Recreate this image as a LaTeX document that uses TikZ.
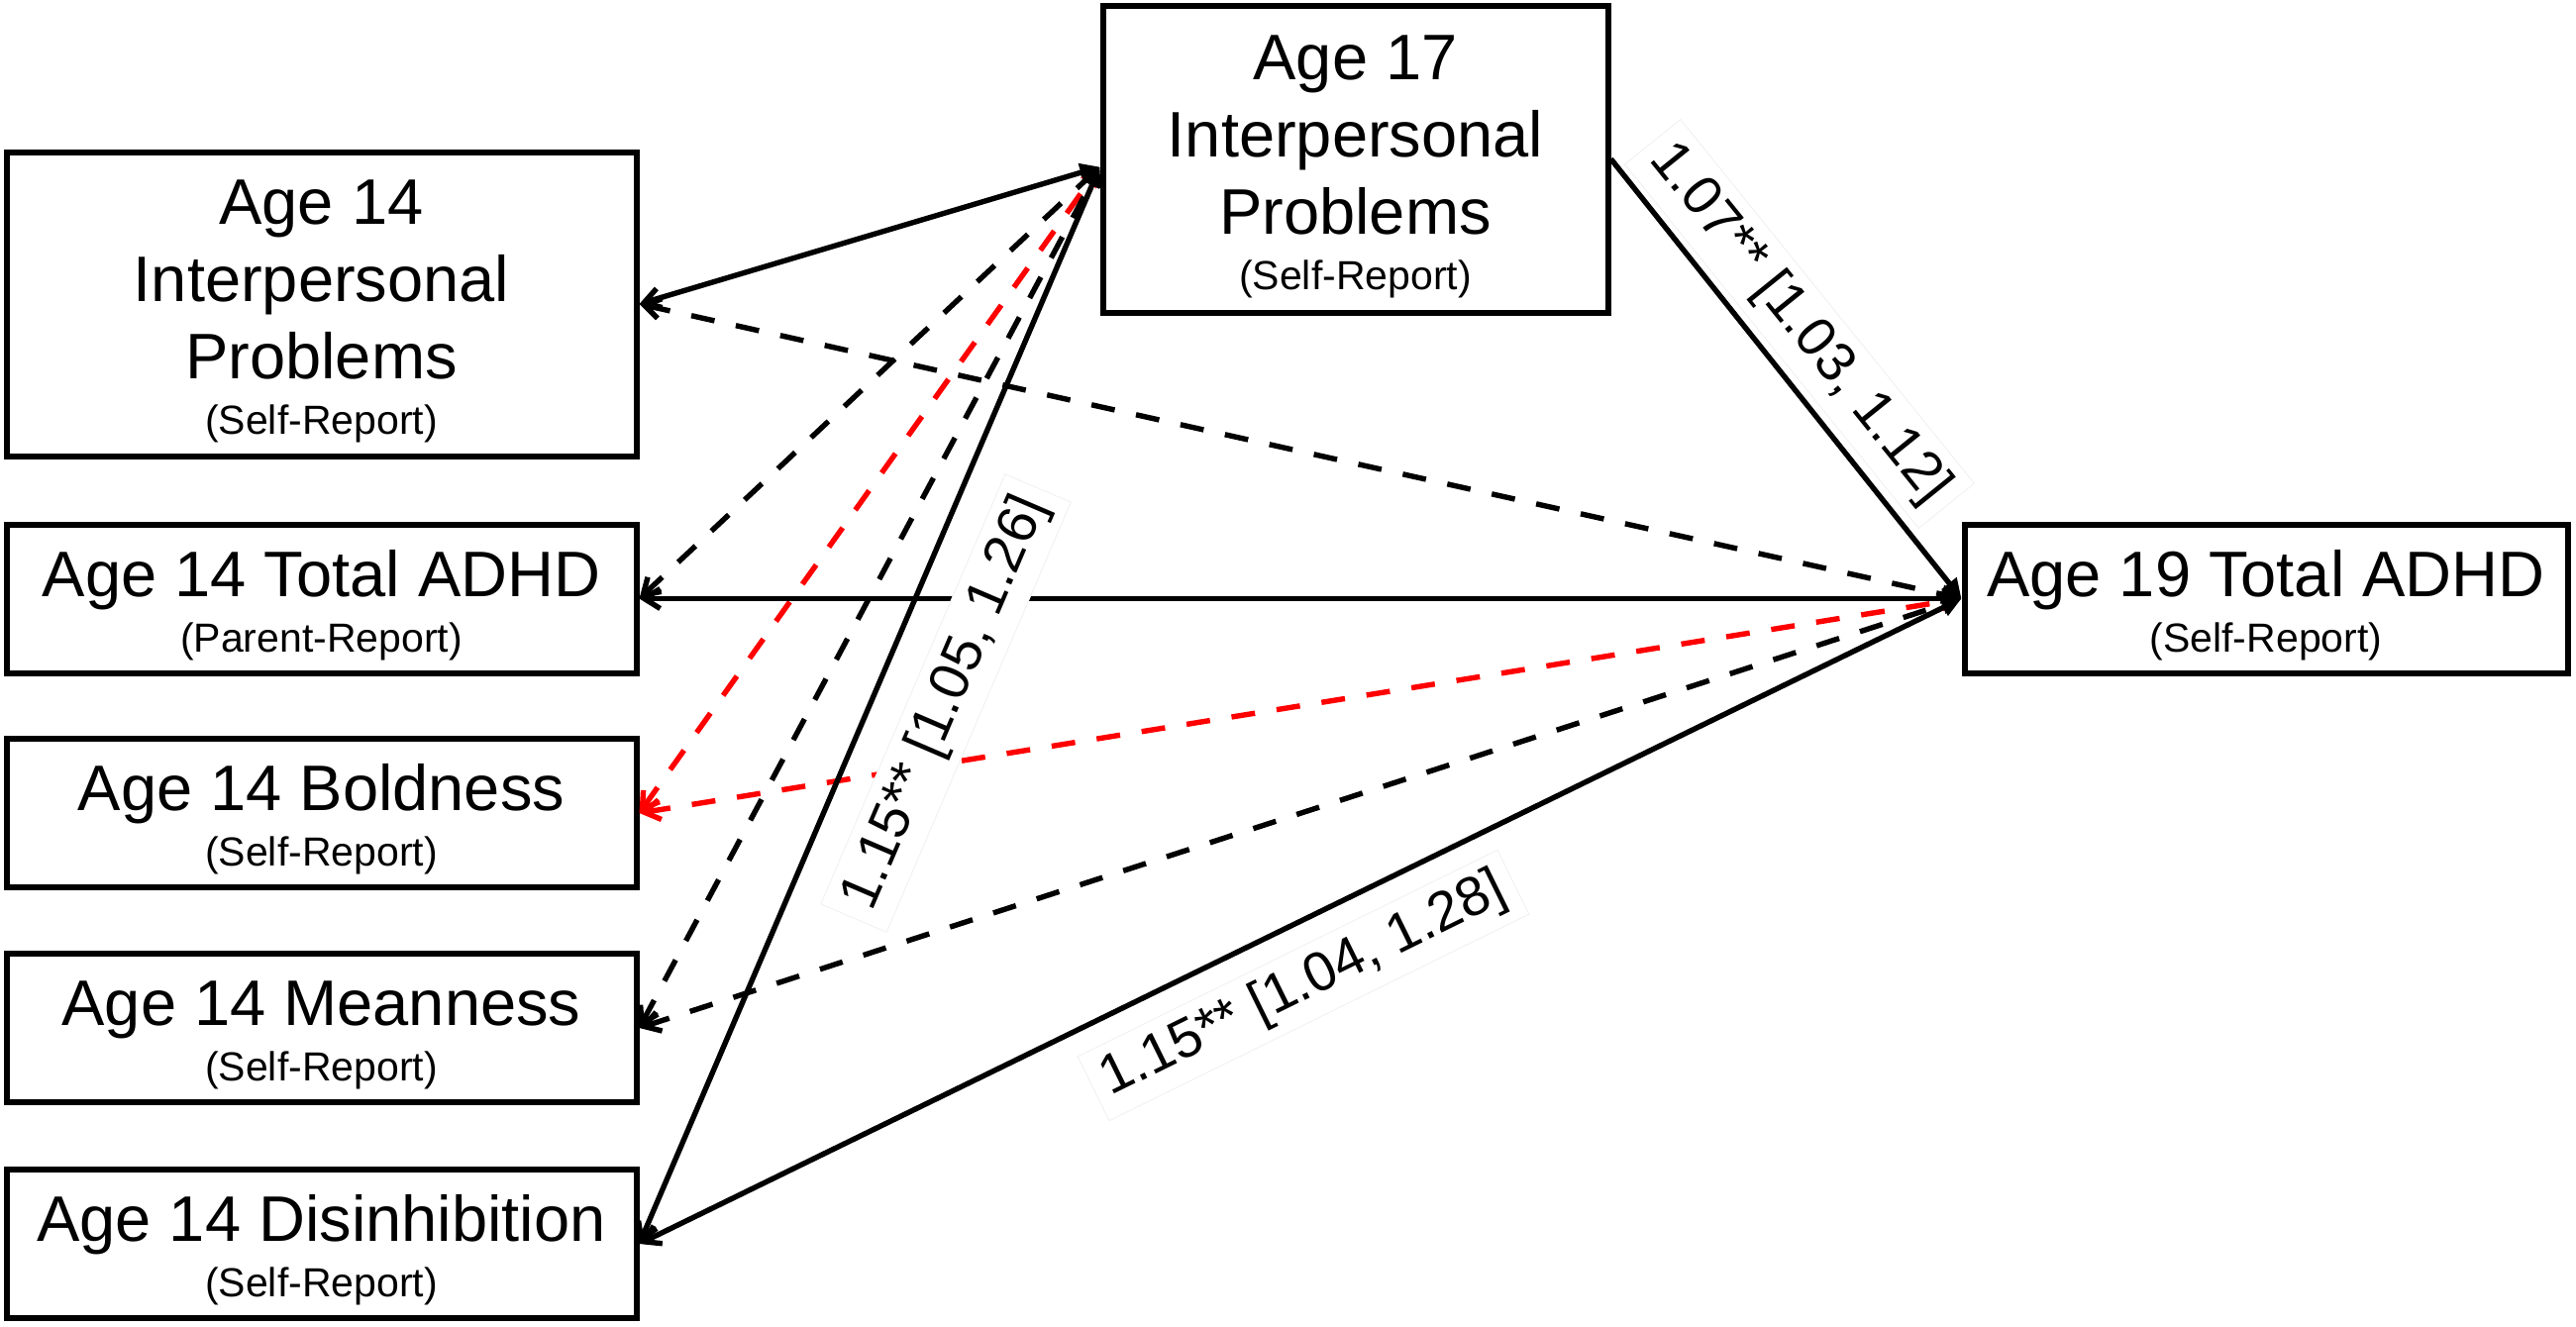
\documentclass[tikz,border=0pt]{standalone}
\usepackage{fontspec}
\setmainfont{Liberation Sans}
\usetikzlibrary{arrows.meta}
\definecolor{redline}{RGB}{255,0,0}
\newcommand\smallrep{\fontsize{20.5}{24.6}\selectfont}
\newcommand\tstrut{\rule{0pt}{30pt}}
\begin{document}
\begin{tikzpicture}[x=0.5pt,y=-0.5pt,
  box/.style={draw, line width=3pt, align=center, inner sep=0pt, font=\fontsize{32.5}{39}\selectfont},
  lbox/.style={box, minimum width=318pt, minimum height=75pt},
  ln/.style={line width=2.7pt, {Straight Barb[length=8pt,width=10pt]}-{Triangle[length=10pt,width=9pt]}},
  dsh/.style={ln, dash pattern=on 12pt off 11pt},
  plainln/.style={line width=2.7pt, -{Triangle[length=10pt,width=9pt]}},
  lab/.style={font=\fontsize{28}{33}\selectfont, fill=white, draw=black!6, line width=0.4pt, inner xsep=6pt, inner ysep=5pt}
]
\useasboundingbox (0,0) rectangle (2601,1339);

% nodes
\node[box, minimum width=318pt, minimum height=153.5pt] (i14) at (324.5,307)
  {\tstrut Age 14\\Interpersonal\\Problems\\[-11pt]\smallrep (Self-Report)};
\node[lbox] (t14) at (324.5,604.5) {\tstrut Age 14 Total ADHD\\[-11pt]\smallrep (Parent-Report)};
\node[lbox] (b14) at (324.5,821) {\tstrut Age 14 Boldness\\[-11pt]\smallrep (Self-Report)};
\node[lbox] (m14) at (324.5,1038) {\tstrut Age 14 Meanness\\[-11pt]\smallrep (Self-Report)};
\node[lbox] (d14) at (324.5,1256) {\tstrut Age 14 Disinhibition\\[-11pt]\smallrep (Self-Report)};
\node[box, minimum width=255pt, minimum height=155pt] (i17) at (1368.5,160.5)
  {\tstrut Age 17\\Interpersonal\\Problems\\[-11pt]\smallrep (Self-Report)};
\node[box, minimum width=304.5pt, minimum height=75pt] (a19) at (2288,604.5)
  {\tstrut Age 19 Total ADHD\\[-11pt]\smallrep (Self-Report)};

\coordinate (t17) at ([yshift=-4pt]i17.west);
\coordinate (t19) at (a19.west);

% connectors
\draw[dsh, redline] (b14.east) -- (t17);
\draw[dsh, redline] (b14.east) -- (t19);
\draw[ln] (i14.east) -- (t17);
\draw[dsh] (i14.east) -- (t19);
\draw[dsh] (t14.east) -- (t17);
\draw[ln] (t14.east) -- (t19);
\draw[dsh] (m14.east) -- (t17);
\draw[dsh] (m14.east) -- (t19);
\draw[ln] (d14.east) -- (t17);
\draw[ln] (d14.east) -- (t19);
\draw[plainln] (i17.east) -- (t19);

% labels
\node[lab, rotate=66.8] (l1) at (955,710) {1.15** [1.05, 1.26]};
\node[lab, rotate=26.2] (l2) at (1316,995) {1.15** [1.04, 1.28]};
\node[lab, rotate=-51.1] (l3) at (1817,327) {1.07** [1.03, 1.12]};
\end{tikzpicture}
\end{document}
